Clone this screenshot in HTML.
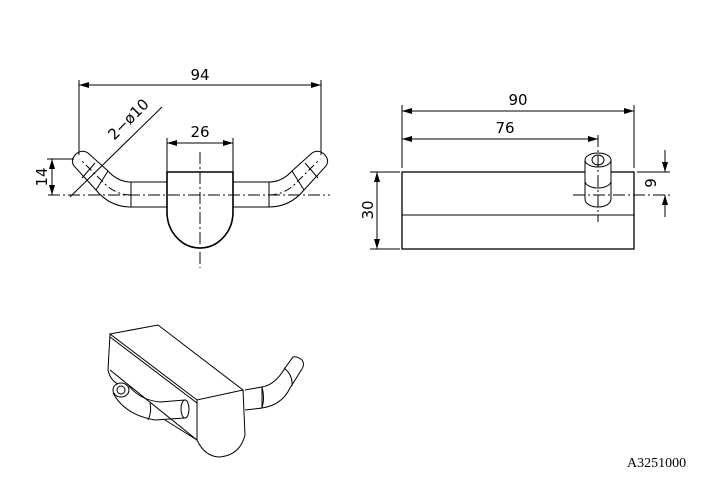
<!DOCTYPE html>
<html><head><style>
html,body{margin:0;padding:0;background:#fff;}
svg{display:block;}
text{font-family:"DejaVu Sans","Liberation Sans",sans-serif;font-size:15px;fill:#000;}
</style></head><body>
<svg width="710" height="478" viewBox="0 0 710 478" xmlns="http://www.w3.org/2000/svg">
<defs>
<marker id="a" markerWidth="10" markerHeight="6" refX="10" refY="3" orient="auto-start-reverse" markerUnits="userSpaceOnUse">
<path d="M0,0 L10,3 L0,6 z" fill="#000"/></marker>
</defs>
<g stroke="#000" fill="none" stroke-width="1">
<line x1="79" y1="85" x2="321" y2="85" marker-start="url(#a)" marker-end="url(#a)"/>
<line x1="79" y1="80" x2="79" y2="155"/>
<line x1="321" y1="80" x2="321" y2="155"/>
<line x1="167" y1="143" x2="233" y2="143" marker-start="url(#a)" marker-end="url(#a)"/>
<line x1="167" y1="138" x2="167" y2="172"/>
<line x1="233" y1="138" x2="233" y2="172"/>
<path d="M167,172 L233,172 L233,212 A33,36 0 0 1 167,212 Z" stroke-width="1.6"/>
<line x1="200" y1="152" x2="200" y2="268" stroke-dasharray="12,3,2,3"/>
<line x1="48" y1="195" x2="330" y2="195" stroke-dasharray="12,3,2,3"/>
<path d="M167,182 L131,182 L131,207 L167,207"/>
<path d="M233,182 L269,182 L269,207 L233,207"/>
<path d="M131,182 Q118,182 108,171 L88,153 Q82,149 76,154 Q70,160 74,166 L96,190 Q110,207 131,207"/>
<path d="M131,195 Q116,195 104,183 L80,159" stroke-dasharray="8,3,2,3"/>
<line x1="95" y1="163" x2="82" y2="178"/>
<line x1="108" y1="171" x2="96" y2="190"/>
<path d="M269,182 Q282,182 292,171 L312,153 Q318,149 324,154 Q330,160 326,166 L304,190 Q290,207 269,207"/>
<path d="M269,195 Q284,195 296,183 L320,159" stroke-dasharray="8,3,2,3"/>
<line x1="305" y1="163" x2="318" y2="178"/>
<line x1="292" y1="171" x2="304" y2="190"/>
<line x1="52" y1="159" x2="52" y2="195" marker-start="url(#a)" marker-end="url(#a)"/>
<line x1="47" y1="159" x2="74" y2="159"/>
<line x1="70" y1="197" x2="162" y2="107"/>
<line x1="402" y1="111" x2="634" y2="111" marker-start="url(#a)" marker-end="url(#a)"/>
<line x1="402" y1="105" x2="402" y2="168"/>
<line x1="634" y1="105" x2="634" y2="168"/>
<line x1="402" y1="139" x2="598" y2="139" marker-start="url(#a)" marker-end="url(#a)"/>
<rect x="402" y="172" width="232" height="77" stroke-width="1.3"/>
<line x1="402" y1="215" x2="634" y2="215"/>
<line x1="370" y1="172" x2="400" y2="172"/>
<line x1="370" y1="249" x2="400" y2="249"/>
<line x1="377" y1="172" x2="377" y2="249" marker-start="url(#a)" marker-end="url(#a)"/>
<path d="M585,160 L585,199 A13,8 0 0 0 611,199 L611,160" fill="#fff"/>
<ellipse cx="598" cy="160" rx="13" ry="7" fill="#fff"/>
<ellipse cx="598" cy="160" rx="6" ry="5"/>
<path d="M585,181 A13,7 0 0 0 611,181"/>
<line x1="598" y1="135" x2="598" y2="222" stroke-dasharray="12,3,2,3"/>
<line x1="573" y1="195" x2="670" y2="195" stroke-dasharray="12,3,2,3"/>
<line x1="637" y1="172" x2="670" y2="172"/>
<line x1="665" y1="150" x2="665" y2="172" marker-end="url(#a)"/>
<line x1="665" y1="217" x2="665" y2="195" marker-end="url(#a)"/>
<path d="M110,334 L158,325 L243,390 L197,400 Z"/>
<line x1="110" y1="337" x2="197" y2="403"/>
<path d="M197,400 L197,440 Q205,457 220,457 Q240,455 245,435 L243,390"/>
<path d="M110,334 L108,370 Q110,380 118,384"/>
<line x1="110" y1="370" x2="197" y2="440"/>
<path d="M165,420 L197,440"/>
<ellipse cx="121" cy="390" rx="8" ry="7"/>
<ellipse cx="121" cy="390" rx="4" ry="4"/>
<path d="M113,393 Q125,415 155,420 L185,418"/>
<path d="M129,386 Q140,400 160,402 L185,400"/>
<ellipse cx="185" cy="409" rx="4" ry="9"/>
<path d="M150,403 Q152,412 148,420"/>
<path d="M245,390 L262,387 L262,408 L245,410"/>
<path d="M262,387 Q275,385 285,368 L293,357 Q297,356 302,360 Q305,364 302,369 L290,388 Q282,405 262,408"/>
<path d="M262,387 Q265,398 262,408"/>
<path d="M284,368 Q293,375 292,386"/>
</g>
<text x="200" y="80" text-anchor="middle">94</text>
<text x="200" y="137" text-anchor="middle">26</text>
<text transform="translate(47,177) rotate(-90)" text-anchor="middle">14</text>
<text transform="translate(132,123) rotate(-45)" text-anchor="middle">2−ø10</text>
<text x="518" y="105" text-anchor="middle">90</text>
<text x="505" y="133" text-anchor="middle">76</text>
<text transform="translate(373,210) rotate(-90)" text-anchor="middle">30</text>
<text transform="translate(656,183) rotate(-90)" text-anchor="middle">9</text>
<text x="627" y="467" style="font-family:'Liberation Serif',serif;font-size:14px;">A3251000</text>
</svg>
</body></html>
